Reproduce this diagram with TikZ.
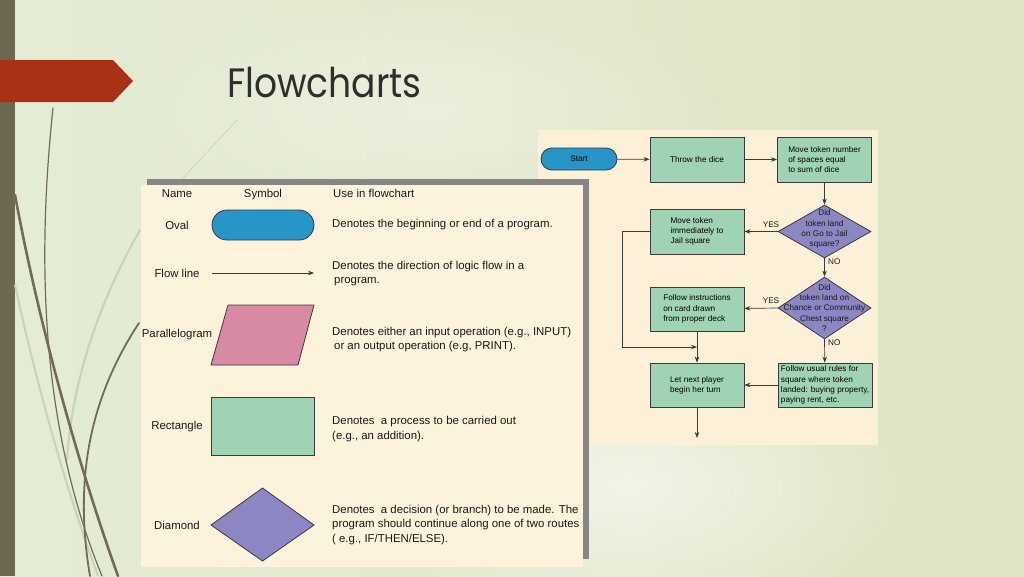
\documentclass[tikz,border=0pt]{standalone}
\usepackage{fontspec}
\setmainfont{Liberation Sans}
\newfontfamily\titlefont{Poppins}[FakeStretch=0.88]
\usetikzlibrary{shapes.geometric,arrows.meta,fadings}
\tikzfading[name=softspot, inner color=transparent!0, outer color=transparent!100]
\definecolor{bgL}{HTML}{E5ECD5}
\definecolor{bgM}{HTML}{ECF1DF}
\definecolor{bgR}{HTML}{DEE5C4}
\definecolor{stripe}{HTML}{6D684F}
\definecolor{banner}{HTML}{A83118}
\definecolor{olive}{HTML}{736C54}
\definecolor{faint}{HTML}{C9D1B6}
\definecolor{cream}{HTML}{FDF2DC}
\definecolor{cream2}{HTML}{FCF0D8}
\definecolor{frame}{HTML}{878684}
\definecolor{ovalblue}{HTML}{2795C8}
\definecolor{pinkc}{HTML}{D88AA4}
\definecolor{procgreen}{HTML}{9FD3B3}
\definecolor{decpurple}{HTML}{8C87C3}
\definecolor{boxline}{HTML}{3A3A3A}
\definecolor{titlegray}{HTML}{2E2E2E}
\tikzset{
  tt/.style={font=\fontsize{11.4}{14.5}\selectfont, inner sep=0pt, align=left, text=black!90},
  ft/.style={font=\fontsize{8.2}{10.2}\selectfont, inner sep=0pt, align=left, text=black!90},
  fbox/.style={draw=boxline, line width=0.8pt, fill=procgreen, minimum width=94pt, minimum height=45pt, inner sep=0pt, font=\fontsize{8.2}{10.2}\selectfont, align=left},
  fdia/.style={diamond, draw=boxline, line width=0.8pt, fill=decpurple, minimum width=93pt, minimum height=53pt, inner sep=0pt},
  arr/.style={draw=boxline, line width=0.7pt, -{Stealth[length=6pt,width=4.5pt]}},
  symline/.style={draw=boxline, line width=0.8pt},
  curve/.style={draw=olive, line cap=round},
}
\begin{document}
\begin{tikzpicture}[x=1pt,y=-1pt]
\useasboundingbox (0,0) rectangle (1024,576);
% background
\shade[left color=bgL, middle color=bgM, right color=bgR] (0,0) rectangle (1024,576);
\fill[white, opacity=0.55, path fading=softspot] (630,485) ellipse (280 and 150);
\fill[white, opacity=0.3, path fading=softspot] (430,110) ellipse (300 and 120);
\fill[stripe] (0,0) rectangle (15,576);
% decorative curves
\draw[faint, line width=2pt, line cap=round] (140,230) .. controls (100,300) and (72,380) .. (67,460);
\draw[faint, line width=2pt] (15,285) .. controls (40,400) and (70,500) .. (98,576);
\draw[faint, line width=0.6pt] (183,178) -- (237,120);
\draw[curve, line width=1.2pt] (53,108) .. controls (38,250) and (38,420) .. (102,576);
\draw[curve, line width=2.6pt] (15,195) .. controls (40,330) and (80,470) .. (118,576);
\draw[curve, line width=1.8pt] (139,323) .. controls (95,390) and (72,470) .. (90,576);
% banner
\fill[banner] (0,60) -- (113,60) -- (133,81) -- (113,102) -- (0,102) -- cycle;
% title
\node[anchor=base west, inner sep=0pt, text=titlegray, font=\titlefont\fontsize{41}{41}\selectfont] (title) at (227,97) {Flowcharts};

% ===== flowchart panel =====
\fill[cream2] (538,130) rectangle (878,445);
\node[draw=boxline, line width=0.8pt, fill=ovalblue, rounded corners=11pt, minimum width=76pt, minimum height=22pt, inner sep=0pt, font=\fontsize{8.2}{10}\selectfont] (start) at (579,159) {Start};
\node[fbox, align=center] (throw) at (697,159.5) {Throw the dice};
\node[fbox] (move) at (824.5,159.5) {Move token number\\of spaces equal\\to sum of dice};
\node[fdia] (d1) at (824.5,231.5) {};
\node[ft, align=center] (d1t) at (824.5,229) {Did\\token land\\on Go to Jail\\square?};
\node[fbox] (jail) at (697,231.5) {Move token\\immediately to\\Jail square};
\node[fdia, minimum height=62pt] (d2) at (824.5,308) {};
\node[ft, align=center] (d2t) at (824.5,308) {Did\\token land on\\Chance or Community\\Chest square\\?};
\node[fbox, minimum height=44pt] (instr) at (697,309) {Follow instructions\\on card drawn\\from proper deck};
\node[fbox, minimum height=44pt] (usual) at (825,385) {Follow usual rules for\\square where token\\landed: buying property,\\paying rent, etc.};
\node[fbox, minimum height=44pt] (next) at (697,385) {Let next player\\begin her turn};
\node[ft] (yes1) at (771,225) {YES};
\node[ft] (yes2) at (771,301) {YES};
\node[ft, anchor=west] (no1) at (828,262) {NO};
\node[ft, anchor=west] (no2) at (828,343) {NO};
\coordinate (join) at (697,347);
\coordinate (endc) at (697,438);
\draw[arr] (start) -- (throw);
\draw[arr] (throw) -- (move);
\draw[arr] (move) -- (d1.north);
\draw[arr] (d1.west) -- (jail);
\draw[arr] (d1.south) -- (d2.north);
\draw[arr] (d2.west) -- (instr);
\draw[arr] (d2.south) -- (usual);
\draw[arr] (usual) -- (next);
\draw[arr] (instr) -- (next);
\draw[arr] (jail.west) -- ++(-27,0) |- (join);
\draw[arr] (next) -- (endc);

% ===== symbol table =====
\fill[cream] (141,185) rectangle (583,567);
\fill[frame] (147,179) rectangle (589,185);
\fill[frame] (583,179) rectangle (589,559);
\node[tt, anchor=base] (hname) at (177,197.5) {Name};
\node[tt, anchor=base] (hsym) at (263,197.5) {Symbol};
\node[tt, anchor=base west] (huse) at (333,197.5) {Use in flowchart};
% oval
\node[tt] (noval) at (177,225) {Oval};
\node[symline, fill=ovalblue, rounded corners=15pt, minimum width=102pt, minimum height=30pt, inner sep=0pt] (soval) at (263,225) {};
\node[tt, anchor=west] (doval) at (332,225) {Denotes the beginning or end of a program.};
% flow line
\node[tt] (nflow) at (177,273) {Flow line};
\coordinate (fl1) at (212,273);
\coordinate (fl2) at (314,273);
\draw[arr] (fl1) -- (fl2);
\node[tt, anchor=west] (dflow) at (332,273.5) {Denotes the direction of logic flow in a\\\hspace{2pt}program.};
% parallelogram
\node[tt] (npar) at (177,335) {Parallelogram};
\draw[symline, fill=pinkc] (228,305) -- (314,305) -- (298,365) -- (211,365) -- cycle;
\node[tt, anchor=west] (dpar) at (332,339.5) {Denotes either an input operation (e.g., INPUT)\\\hspace{2pt}or an output operation (e.g, PRINT).};
% rectangle
\node[tt] (nrect) at (177,427) {Rectangle};
\node[symline, fill=procgreen, minimum width=103pt, minimum height=58pt, inner sep=0pt] (srect) at (262.5,426) {};
\node[tt, anchor=west] (drect) at (332,429) {Denotes\ \ a process to be carried out\\(e.g., an addition).};
% diamond
\node[tt] (ndia) at (177,525) {Diamond};
\draw[symline, fill=decpurple] (211,525) -- (262.5,488) -- (314,525) -- (262.5,561) -- cycle;
\node[tt, anchor=west] (ddia) at (332,525) {Denotes\ \ a decision (or branch) to be made. The\\program should continue along one of two routes\\( e.g., IF/THEN/ELSE).};
\end{tikzpicture}
\end{document}
